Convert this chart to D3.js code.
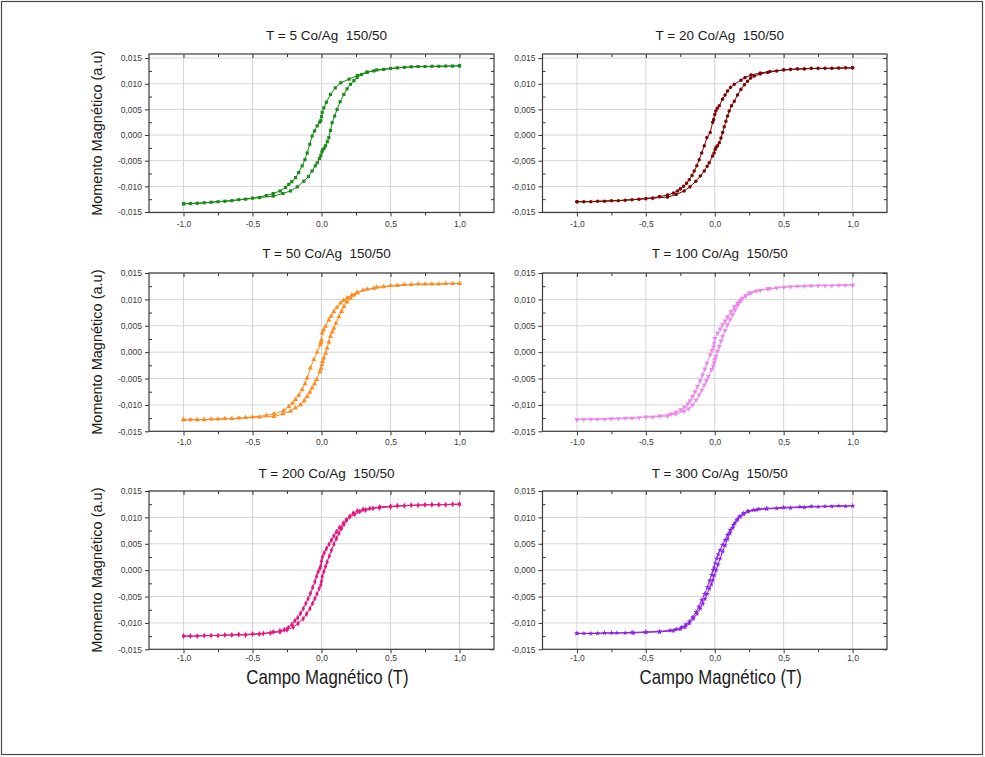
<!DOCTYPE html>
<html>
<head>
<meta charset="utf-8">
<script src="https://cdn.jsdelivr.net/npm/d3@7"></script>
<style>
  html, body { margin: 0; padding: 0; background: #fff; }
  svg { display: block; }
  text { font-family: "Liberation Sans", Arial, sans-serif; }
</style>
</head>
<body>
<svg id="chart" width="985" height="757"></svg>
<script>
// ---------------- DATA ----------------
const titles = ["T = 5 Co/Ag  150/50", "T = 20 Co/Ag  150/50", "T = 50 Co/Ag  150/50",
                "T = 100 Co/Ag  150/50", "T = 200 Co/Ag  150/50", "T = 300 Co/Ag  150/50"];
const colors = ["#178a17", "#7d0505", "#ff8b1f", "#ee86ee", "#e8167f", "#8a22e6"];
const yLabel = "Momento Magnético (a.u)";
const xLabel = "Campo Magnético (T)";
const xMajorTicks = [-1.0, -0.5, 0.0, 0.5, 1.0];
const xMinorTicks = [-0.75, -0.25, 0.25, 0.75];
const yMajorTicks = [-0.015, -0.010, -0.005, 0.000, 0.005, 0.010, 0.015];
const yMinorTicks = [-0.0125, -0.0075, -0.0025, 0.0025, 0.0075, 0.0125];

// [field (T), moment (a.u)]  descending branch (+1 -> -1) and ascending branch (-1 -> +1)
const t5Down = [[1.0,0.0135],[0.9,0.01345],[0.8,0.0134],[0.7,0.01335],[0.6,0.0132],[0.5,0.0130],[0.4,0.0127],[0.33,0.0123],[0.26,0.0116],[0.2,0.0109],[0.14,0.0102],[0.1,0.0092],[0.065,0.0079],[0.035,0.0064],[0.017,0.0053],[0.005,0.0044],[0.0,0.0036],[-0.005,0.0028],[-0.015,0.0025],[-0.031,0.0018],[-0.05,0.0008],[-0.068,-0.0002],[-0.085,-0.0018],[-0.104,-0.0035],[-0.12,-0.0048],[-0.14,-0.006],[-0.165,-0.0073],[-0.188,-0.0083],[-0.215,-0.0091],[-0.237,-0.0096],[-0.26,-0.0102],[-0.3,-0.0109],[-0.35,-0.0114],[-0.4,-0.0118],[-0.5,-0.0123],[-0.6,-0.0126],[-0.7,-0.0129],[-0.8,-0.0131],[-0.9,-0.0133],[-1.0,-0.0134]];
const t5Up = [[-1.0,-0.0134],[-0.95,-0.01335],[-0.85,-0.0132],[-0.75,-0.013],[-0.65,-0.0128],[-0.55,-0.0125],[-0.45,-0.0122],[-0.35,-0.0119],[-0.28,-0.0114],[-0.225,-0.0109],[-0.175,-0.0101],[-0.128,-0.009],[-0.095,-0.0081],[-0.068,-0.007],[-0.045,-0.006],[-0.031,-0.0054],[-0.015,-0.0046],[-0.005,-0.004],[0.003,-0.0033],[0.008,-0.0029],[0.018,-0.0026],[0.029,-0.0021],[0.042,-0.0013],[0.053,-0.0005],[0.065,0.0009],[0.077,0.0024],[0.095,0.0037],[0.113,0.005],[0.135,0.0065],[0.162,0.0079],[0.185,0.009],[0.21,0.0099],[0.235,0.0106],[0.258,0.0112],[0.29,0.0118],[0.331,0.0122],[0.38,0.0125],[0.45,0.0128],[0.55,0.0131],[0.65,0.0133],[0.75,0.01335],[0.85,0.0134],[0.95,0.01345],[1.0,0.0135]];

const t20Down = [[1.0,0.0131],[0.9,0.01305],[0.8,0.013],[0.7,0.013],[0.6,0.0129],[0.5,0.0127],[0.4,0.0124],[0.33,0.0121],[0.263,0.0117],[0.22,0.0112],[0.19,0.0107],[0.142,0.0099],[0.115,0.0093],[0.093,0.0086],[0.075,0.0078],[0.057,0.007],[0.033,0.0057],[0.018,0.0052],[0.008,0.0047],[0.0,0.004],[-0.008,0.003],[-0.015,0.0025],[-0.033,0.0005],[-0.057,-0.0005],[-0.076,-0.0021],[-0.095,-0.0035],[-0.113,-0.0048],[-0.13,-0.006],[-0.149,-0.007],[-0.165,-0.0079],[-0.185,-0.0087],[-0.205,-0.0094],[-0.226,-0.01],[-0.25,-0.0105],[-0.27,-0.0109],[-0.3,-0.0113],[-0.343,-0.0117],[-0.4,-0.012],[-0.5,-0.0124],[-0.6,-0.0126],[-0.7,-0.0128],[-0.8,-0.0129],[-0.9,-0.013],[-1.0,-0.013]];
const t20Up = [[-1.0,-0.013],[-0.95,-0.013],[-0.85,-0.0129],[-0.75,-0.0128],[-0.65,-0.0127],[-0.55,-0.0125],[-0.45,-0.0123],[-0.343,-0.0121],[-0.28,-0.0116],[-0.222,-0.0109],[-0.18,-0.0101],[-0.137,-0.009],[-0.105,-0.008],[-0.076,-0.007],[-0.055,-0.0061],[-0.04,-0.0054],[-0.016,-0.0041],[-0.005,-0.0035],[0.003,-0.0028],[0.01,-0.0024],[0.02,-0.0021],[0.033,-0.0015],[0.045,-0.0006],[0.057,0.0005],[0.069,0.0016],[0.081,0.0027],[0.093,0.0037],[0.105,0.0047],[0.122,0.0057],[0.142,0.0066],[0.165,0.0078],[0.19,0.0089],[0.215,0.0098],[0.238,0.0105],[0.26,0.0111],[0.287,0.0115],[0.33,0.0119],[0.384,0.0122],[0.45,0.0125],[0.55,0.0128],[0.65,0.0129],[0.75,0.013],[0.85,0.013],[0.95,0.0131],[1.0,0.0131]];

const t50Down = [[1.0,0.013],[0.9,0.013],[0.8,0.0129],[0.7,0.0129],[0.6,0.0128],[0.5,0.0126],[0.4,0.0123],[0.33,0.0119],[0.258,0.0113],[0.22,0.0108],[0.186,0.0103],[0.16,0.0098],[0.138,0.0093],[0.112,0.0085],[0.089,0.0077],[0.07,0.0068],[0.053,0.0061],[0.029,0.0049],[0.015,0.0042],[0.005,0.0036],[0.0,0.0023],[-0.004,0.0018],[-0.008,0.0014],[-0.031,0.0],[-0.056,-0.0014],[-0.08,-0.003],[-0.104,-0.0049],[-0.12,-0.006],[-0.14,-0.0071],[-0.165,-0.0082],[-0.188,-0.009],[-0.21,-0.0097],[-0.237,-0.0103],[-0.273,-0.0111],[-0.345,-0.0117],[-0.4,-0.012],[-0.5,-0.0123],[-0.6,-0.0125],[-0.7,-0.0126],[-0.8,-0.0127],[-0.9,-0.0128],[-1.0,-0.0128]];
const t50Up = [[-1.0,-0.0128],[-0.95,-0.0128],[-0.85,-0.0128],[-0.75,-0.0127],[-0.65,-0.0126],[-0.55,-0.0124],[-0.45,-0.0123],[-0.345,-0.0122],[-0.28,-0.0117],[-0.225,-0.0112],[-0.19,-0.0106],[-0.152,-0.01],[-0.125,-0.0092],[-0.104,-0.0084],[-0.085,-0.0076],[-0.068,-0.0068],[-0.05,-0.006],[-0.036,-0.0052],[-0.012,-0.0037],[-0.003,-0.0031],[0.003,-0.0024],[0.008,-0.0018],[0.017,-0.0011],[0.03,-0.0002],[0.041,0.0008],[0.053,0.0019],[0.065,0.003],[0.078,0.0038],[0.089,0.0045],[0.105,0.0055],[0.126,0.0067],[0.145,0.0077],[0.162,0.0086],[0.185,0.0095],[0.21,0.0102],[0.235,0.0108],[0.258,0.0112],[0.3,0.0117],[0.379,0.0121],[0.45,0.0124],[0.55,0.0126],[0.65,0.0128],[0.75,0.0129],[0.85,0.0129],[0.95,0.013],[1.0,0.013]];

const t100Down = [[1.0,0.0127],[0.9,0.0127],[0.8,0.0126],[0.7,0.0126],[0.6,0.0125],[0.5,0.0123],[0.4,0.012],[0.33,0.0117],[0.263,0.0112],[0.225,0.0106],[0.19,0.0099],[0.165,0.0093],[0.142,0.0086],[0.118,0.0077],[0.093,0.0067],[0.075,0.0059],[0.057,0.0052],[0.04,0.0044],[0.021,0.0036],[0.001,0.0026],[-0.004,0.0017],[-0.008,0.001],[-0.02,0.0003],[-0.033,-0.0005],[-0.057,-0.0021],[-0.072,-0.0032],[-0.088,-0.0043],[-0.105,-0.0054],[-0.125,-0.0065],[-0.143,-0.0075],[-0.161,-0.0084],[-0.18,-0.0092],[-0.197,-0.0098],[-0.22,-0.0104],[-0.246,-0.0109],[-0.28,-0.0114],[-0.318,-0.0117],[-0.4,-0.0121],[-0.5,-0.0123],[-0.6,-0.0125],[-0.7,-0.0126],[-0.8,-0.0127],[-0.9,-0.0127],[-1.0,-0.0128]];
const t100Up = [[-1.0,-0.0128],[-0.95,-0.0127],[-0.85,-0.0127],[-0.75,-0.0126],[-0.65,-0.0125],[-0.55,-0.0124],[-0.45,-0.0123],[-0.343,-0.0121],[-0.28,-0.0117],[-0.222,-0.0112],[-0.19,-0.0107],[-0.161,-0.01],[-0.135,-0.0091],[-0.113,-0.0081],[-0.094,-0.0072],[-0.076,-0.0062],[-0.06,-0.0054],[-0.047,-0.0046],[-0.023,-0.0033],[-0.01,-0.0026],[-0.005,-0.002],[0.0,-0.0014],[0.008,-0.0008],[0.02,0.0002],[0.033,0.0011],[0.045,0.0021],[0.057,0.003],[0.075,0.0041],[0.093,0.0052],[0.112,0.0062],[0.13,0.0071],[0.148,0.008],[0.166,0.0089],[0.185,0.0096],[0.202,0.0102],[0.225,0.0108],[0.25,0.0112],[0.3,0.0116],[0.384,0.012],[0.45,0.0122],[0.55,0.0124],[0.65,0.0125],[0.75,0.0126],[0.85,0.0126],[0.95,0.0127],[1.0,0.0127]];

const t200Down = [[1.0,0.0125],[0.9,0.0124],[0.8,0.0124],[0.7,0.0123],[0.6,0.0122],[0.5,0.012],[0.42,0.0118],[0.373,0.0117],[0.32,0.0114],[0.277,0.0111],[0.24,0.0106],[0.205,0.0101],[0.18,0.0095],[0.157,0.0089],[0.13,0.0081],[0.108,0.0073],[0.09,0.0065],[0.072,0.0057],[0.055,0.0049],[0.036,0.0041],[0.02,0.0033],[0.007,0.0025],[0.0,0.0017],[-0.005,0.0008],[-0.012,0.0003],[-0.024,-0.0003],[-0.036,-0.0012],[-0.048,-0.0022],[-0.064,-0.0033],[-0.08,-0.0044],[-0.097,-0.0054],[-0.113,-0.0063],[-0.132,-0.0073],[-0.152,-0.0082],[-0.172,-0.009],[-0.193,-0.0096],[-0.215,-0.0103],[-0.241,-0.0109],[-0.27,-0.0113],[-0.301,-0.0115],[-0.35,-0.0117],[-0.422,-0.012],[-0.5,-0.0121],[-0.6,-0.0122],[-0.7,-0.0123],[-0.8,-0.0124],[-0.9,-0.0125],[-1.0,-0.0125]];
const t200Up = [[-1.0,-0.0125],[-0.95,-0.0125],[-0.85,-0.0124],[-0.75,-0.0124],[-0.65,-0.0123],[-0.55,-0.0123],[-0.45,-0.0121],[-0.37,-0.0119],[-0.301,-0.0117],[-0.25,-0.0113],[-0.205,-0.0108],[-0.17,-0.0101],[-0.133,-0.0092],[-0.108,-0.0083],[-0.084,-0.0073],[-0.065,-0.0063],[-0.048,-0.0054],[-0.033,-0.0045],[-0.017,-0.0035],[-0.005,-0.0028],[0.0,-0.0021],[0.005,-0.0012],[0.017,-0.0003],[0.029,0.0007],[0.041,0.0016],[0.057,0.0027],[0.072,0.0038],[0.09,0.0049],[0.108,0.006],[0.126,0.007],[0.145,0.0079],[0.163,0.0087],[0.181,0.0095],[0.205,0.0102],[0.229,0.0108],[0.26,0.0112],[0.301,0.0115],[0.35,0.0117],[0.422,0.012],[0.5,0.0121],[0.55,0.0122],[0.65,0.0123],[0.75,0.0124],[0.85,0.0124],[0.95,0.0125],[1.0,0.0125]];

const t300Down = [[1.0,0.0122],[0.9,0.0122],[0.8,0.0121],[0.7,0.0121],[0.618,0.012],[0.5,0.0119],[0.377,0.0117],[0.32,0.0116],[0.28,0.0114],[0.24,0.0112],[0.208,0.0108],[0.18,0.0102],[0.159,0.0095],[0.135,0.0086],[0.111,0.0076],[0.093,0.0067],[0.075,0.0057],[0.057,0.0048],[0.039,0.0038],[0.025,0.003],[0.014,0.0022],[0.003,0.0013],[-0.005,0.0005],[-0.012,0.0],[-0.022,-0.0009],[-0.037,-0.002],[-0.053,-0.0032],[-0.073,-0.0045],[-0.094,-0.0057],[-0.115,-0.0069],[-0.135,-0.0079],[-0.16,-0.0089],[-0.184,-0.0097],[-0.21,-0.0103],[-0.239,-0.0108],[-0.28,-0.0112],[-0.324,-0.0114],[-0.4,-0.0116],[-0.5,-0.0117],[-0.6,-0.0118],[-0.71,-0.0119],[-0.8,-0.0119],[-0.9,-0.012],[-1.0,-0.012]];
const t300Up = [[-1.0,-0.012],[-0.95,-0.012],[-0.85,-0.012],[-0.75,-0.0119],[-0.65,-0.0119],[-0.589,-0.0119],[-0.5,-0.0118],[-0.4,-0.0117],[-0.3,-0.0115],[-0.25,-0.0112],[-0.215,-0.0108],[-0.185,-0.0101],[-0.155,-0.0092],[-0.13,-0.0083],[-0.106,-0.0073],[-0.088,-0.0064],[-0.07,-0.0054],[-0.055,-0.0045],[-0.039,-0.0035],[-0.025,-0.0027],[-0.014,-0.0019],[-0.003,-0.001],[0.01,0.0],[0.024,0.0011],[0.039,0.0022],[0.057,0.0035],[0.075,0.0047],[0.093,0.0059],[0.111,0.007],[0.13,0.008],[0.147,0.0089],[0.165,0.0096],[0.184,0.0101],[0.21,0.0106],[0.244,0.0111],[0.3,0.0114],[0.377,0.0116],[0.45,0.0117],[0.55,0.0118],[0.65,0.0119],[0.75,0.012],[0.85,0.0121],[0.95,0.0121],[1.0,0.0122]];

// ---------------- LAYOUT / STYLE ----------------
const branches = [[t5Down, t5Up], [t20Down, t20Up], [t50Down, t50Up],
                  [t100Down, t100Up], [t200Down, t200Up], [t300Down, t300Up]];
const symbols = [d3.symbolSquare, d3.symbolCircle, d3.symbolTriangle, d3.symbolTriangle, d3.symbolDiamond, d3.symbolStar];
const symRot = [0, 0, 0, 180, 0, 0];
const symSize = [10, 10, 11, 11, 10, 9];

const cols = [{x0: 149, x1: 494}, {x0: 542.5, x1: 887}];
const rows = [
  {y0: 54,  y1: 212.5, dom: [-0.0151, 0.0158], titleY: 40,  pad: 4},
  {y0: 273, y1: 431.3, dom: [-0.015, 0.015],   titleY: 258, pad: 4},
  {y0: 491, y1: 649.3, dom: [-0.015, 0.015],   titleY: 478, pad: 2}
];

const loc = d3.formatLocale({decimal: ",", thousands: ".", grouping: [3], currency: ["", ""], minus: "-"});
const fx = loc.format(".1f");
const fy = loc.format(".3f");

const svg = d3.select("#chart");
svg.append("rect").attr("width", 985).attr("height", 757).attr("fill", "#fff");
svg.append("rect").attr("x", 1.5).attr("y", 1.5).attr("width", 981).attr("height", 753)
  .attr("fill", "none").attr("stroke", "#4a4a4a").attr("stroke-width", 1.2);

titles.forEach((title, i) => {
  const c = cols[i % 2], r = rows[Math.floor(i / 2)];
  const x = d3.scaleLinear().domain([-1.25, 1.25]).range([c.x0, c.x1]);
  const y = d3.scaleLinear().domain(r.dom).range([r.y1, r.y0]);
  const g = svg.append("g");

  // grid
  g.selectAll(".gx").data(xMajorTicks).join("line")
    .attr("x1", d => x(d)).attr("x2", d => x(d)).attr("y1", r.y0).attr("y2", r.y1)
    .attr("stroke", "#d6d6d6").attr("stroke-width", 1);
  g.selectAll(".gy").data(yMajorTicks).join("line")
    .attr("x1", c.x0).attr("x2", c.x1).attr("y1", d => y(d)).attr("y2", d => y(d))
    .attr("stroke", "#d6d6d6").attr("stroke-width", 1);

  // axes
  const styleAxis = sel => {
    sel.select(".domain").remove();
    sel.selectAll("line").attr("stroke", "#333");
    sel.selectAll("text").attr("fill", "#3a3a3a").style("font-size", "8.5px")
      .style("font-family", '"Liberation Sans", Arial, sans-serif');
  };
  g.append("g").attr("transform", `translate(0,${r.y1})`)
    .call(d3.axisBottom(x).tickValues(xMajorTicks).tickSize(4).tickPadding(r.pad).tickFormat(fx)).call(styleAxis);
  g.append("g").attr("transform", `translate(0,${r.y1})`)
    .call(d3.axisBottom(x).tickValues(xMinorTicks).tickSize(3).tickFormat("")).call(styleAxis);
  g.append("g").attr("transform", `translate(${c.x0},0)`)
    .call(d3.axisLeft(y).tickValues(yMajorTicks).tickSize(4).tickPadding(3).tickFormat(fy)).call(styleAxis);
  g.append("g").attr("transform", `translate(${c.x0},0)`)
    .call(d3.axisLeft(y).tickValues(yMinorTicks).tickSize(-3).tickFormat("")).call(styleAxis);
  g.append("g").attr("transform", `translate(0,${r.y0})`)
    .call(d3.axisTop(x).tickValues(xMajorTicks).tickSize(-4).tickFormat("")).call(styleAxis);
  g.append("g").attr("transform", `translate(0,${r.y0})`)
    .call(d3.axisTop(x).tickValues(xMinorTicks).tickSize(-3).tickFormat("")).call(styleAxis);
  g.append("g").attr("transform", `translate(${c.x1},0)`)
    .call(d3.axisRight(y).tickValues(yMajorTicks).tickSize(-4).tickFormat("")).call(styleAxis);
  g.append("g").attr("transform", `translate(${c.x1},0)`)
    .call(d3.axisRight(y).tickValues(yMinorTicks).tickSize(-3).tickFormat("")).call(styleAxis);

  // frame
  g.append("rect").attr("x", c.x0).attr("y", r.y0).attr("width", c.x1 - c.x0).attr("height", r.y1 - r.y0)
    .attr("fill", "none").attr("stroke", "#3c3c3c").attr("stroke-width", 1.2);

  // data
  const line = d3.line().x(d => x(d[0])).y(d => y(d[1]));
  const sym = d3.symbol().type(symbols[i]).size(symSize[i]);
  branches[i].forEach(branch => {
    g.append("path").datum(branch).attr("d", line)
      .attr("fill", "none").attr("stroke", colors[i]).attr("stroke-width", 1);
    g.selectAll(null).data(branch).join("path")
      .attr("d", sym)
      .attr("transform", d => `translate(${x(d[0])},${y(d[1])}) rotate(${symRot[i]})`)
      .attr("fill", colors[i]);
  });

  // title
  g.append("text").attr("x", (c.x0 + c.x1) / 2 + 5).attr("y", r.titleY)
    .attr("text-anchor", "middle").style("white-space", "pre")
    .style("font-size", "13.5px").attr("fill", "#1a1a1a").text(title);

  // y label on left column
  if (i % 2 === 0) {
    g.append("text")
      .attr("transform", `translate(102,${(r.y0 + r.y1) / 2}) rotate(-90)`)
      .attr("text-anchor", "middle").style("font-size", "14.5px").attr("fill", "#1a1a1a")
      .text(yLabel);
  }
  // x label on bottom row
  if (i >= 4) {
    g.append("text")
      .attr("transform", `translate(${(c.x0 + c.x1) / 2 + 6},684) scale(0.84,1)`)
      .attr("text-anchor", "middle").style("font-size", "20px").attr("fill", "#1a1a1a")
      .text(xLabel);
  }
});
</script>
</body>
</html>
